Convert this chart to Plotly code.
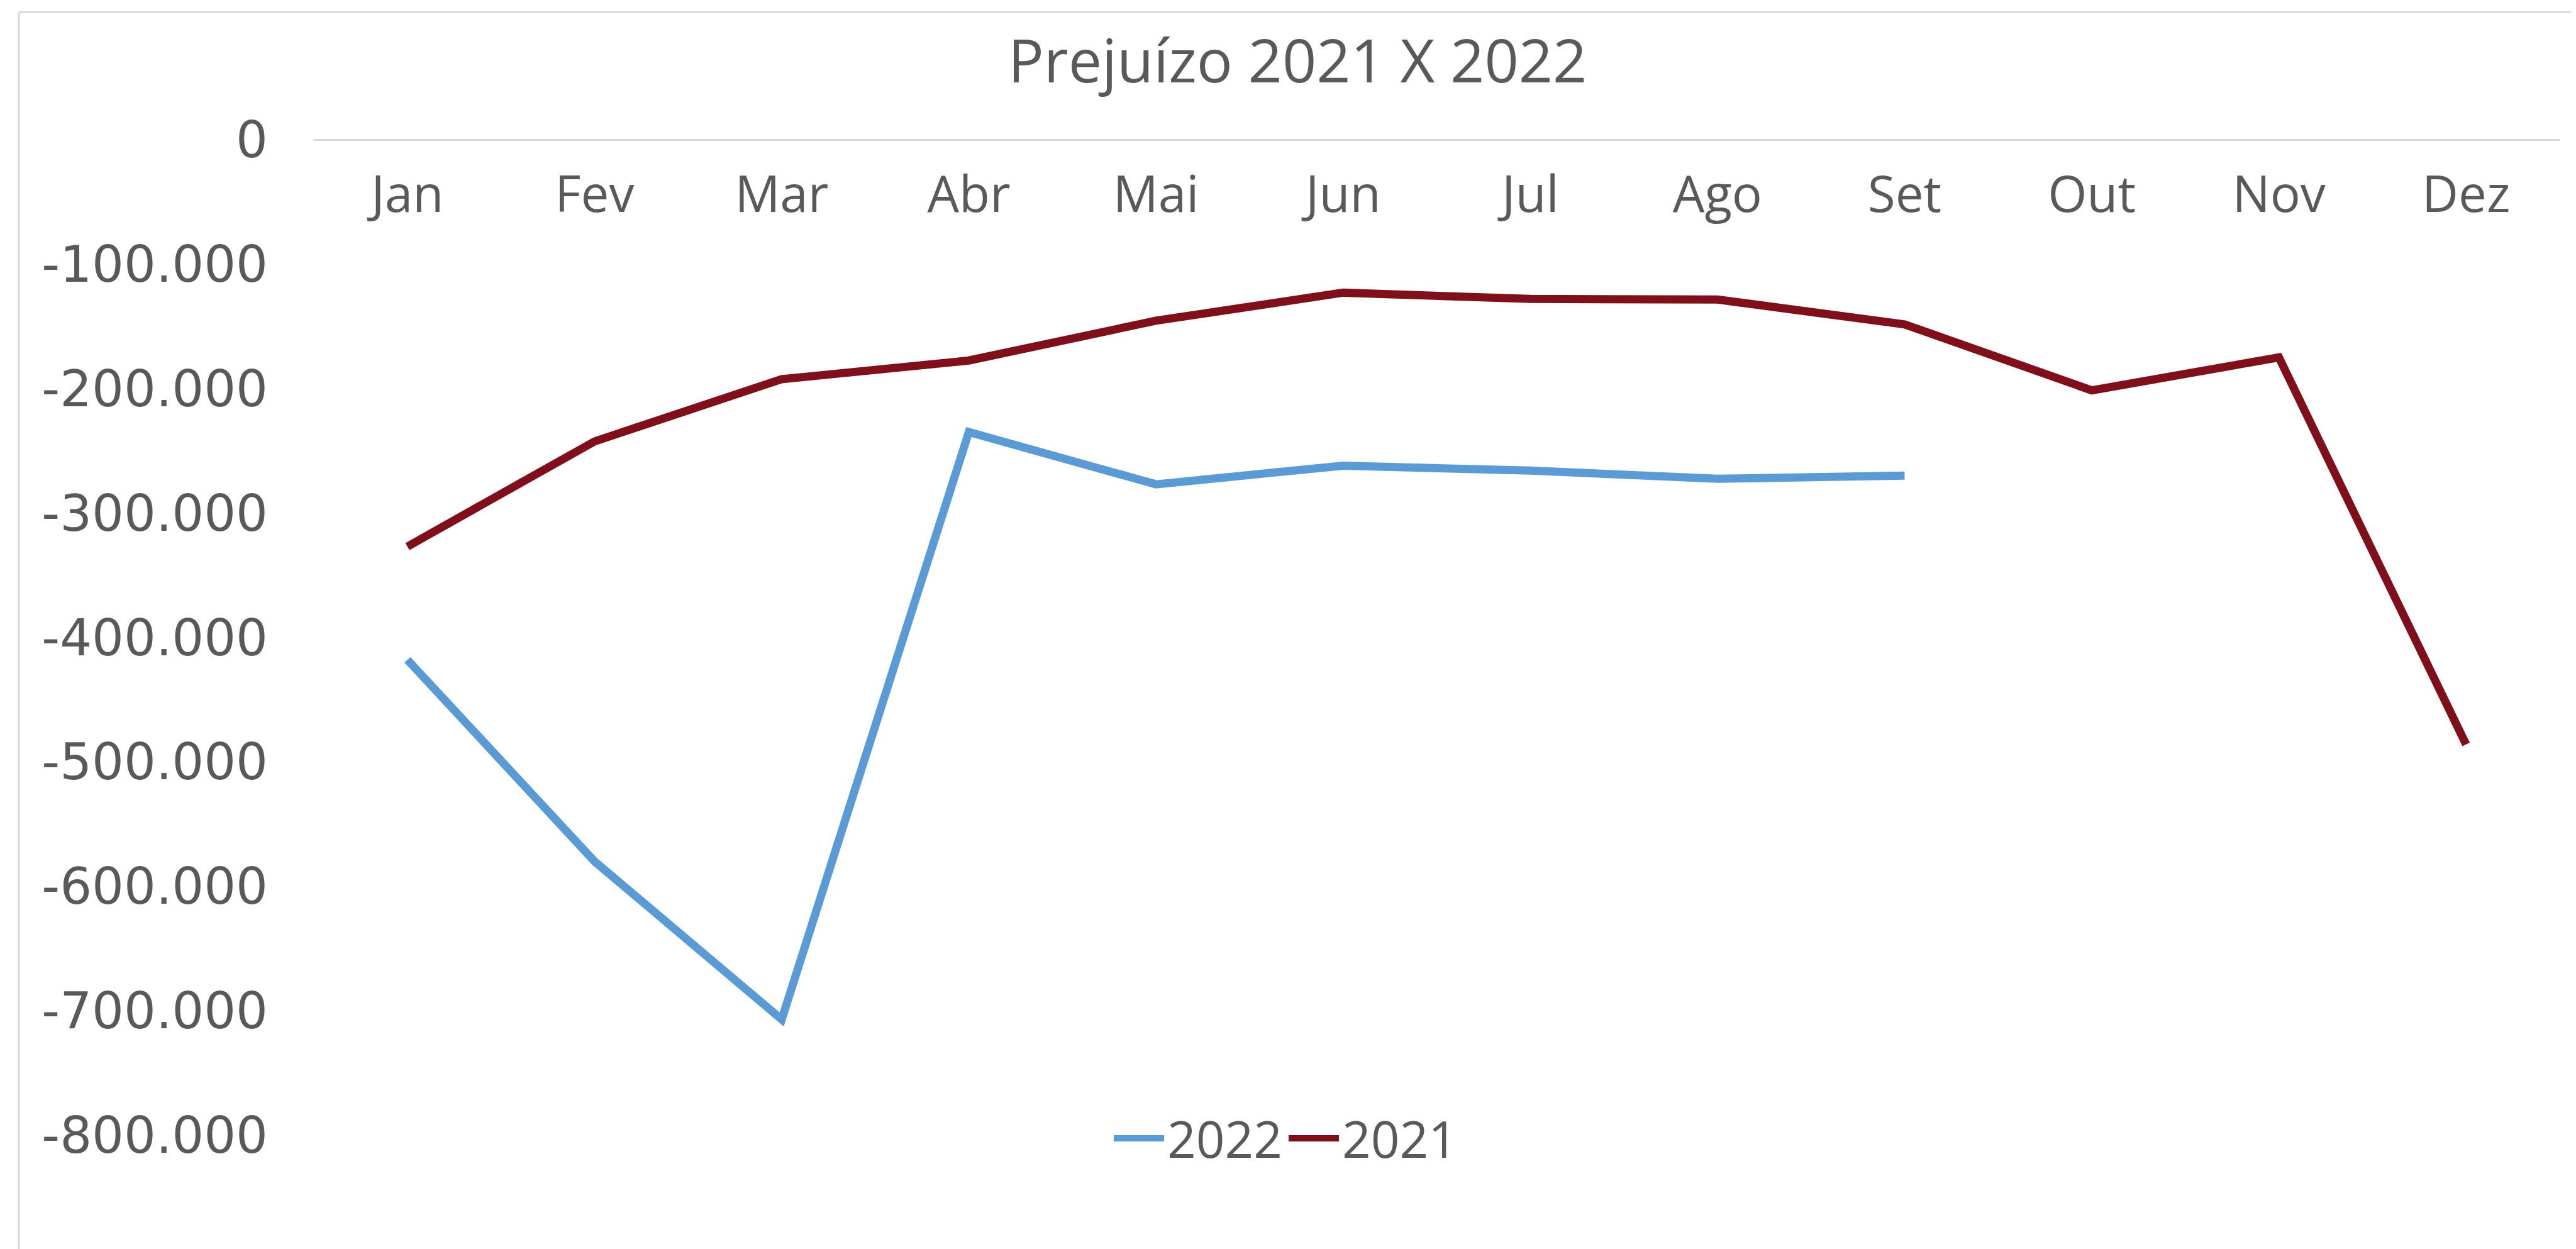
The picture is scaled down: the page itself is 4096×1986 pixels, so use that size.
import plotly.graph_objects as go

months = ["Jan", "Fev", "Mar", "Abr", "Mai", "Jun", "Jul", "Ago", "Set", "Out", "Nov", "Dez"]
values_2022 = [-418000, -580000, -707000, -235000, -277000, -262000, -266000, -272500, -270000, None, None, None]
values_2021 = [-327000, -242500, -192500, -177500, -145500, -123000, -128000, -128500, -148500, -201500, -175000, -486000]
y_tickvals = [0, -100000, -200000, -300000, -400000, -500000, -600000, -700000, -800000]
y_ticktext = ["0", "-100.000", "-200.000", "-300.000", "-400.000", "-500.000", "-600.000", "-700.000", "-800.000"]

W, H = 4096, 1986
L, R, T, B = 491, 4062, 214, 1797
PW, PH = R - L, B - T

def px_x(px):
    return (px - L) / PW

def px_y(py):
    return (B - py) / PH

TEXT = "#595959"
fig = go.Figure()
fig.add_trace(go.Scatter(x=months, y=values_2022, name="2022", mode="lines",
                         line=dict(color="#5B9BD5", width=13), connectgaps=False))
fig.add_trace(go.Scatter(x=months, y=values_2021, name="2021", mode="lines",
                         line=dict(color="#7F0F1A", width=13)))

fig.update_layout(
    width=W, height=H,
    margin=dict(l=L, r=W - R, t=T, b=H - B, pad=0),
    paper_bgcolor="white", plot_bgcolor="white",
    title=dict(text="Prejuízo 2021 X 2022", x=2055 / W, xanchor="center",
               y=1 - 90 / H, yanchor="middle",
               font=dict(family="Open Sans", size=95, color=TEXT)),
    showlegend=True,
    legend=dict(orientation="h", x=px_x(2036), xanchor="center", y=px_y(1802), yanchor="middle",
                font=dict(family="Open Sans", size=80, color=TEXT),
                itemwidth=80, bgcolor="rgba(0,0,0,0)", tracegroupgap=0),
    hovermode=False,
    xaxis=dict(type="category", range=[-0.5, 11.5], anchor="free", position=1, side="bottom",
               showline=True, linecolor="#D9D9D9", linewidth=3, showgrid=False, zeroline=False,
               ticks="", tickfont=dict(family="Open Sans", size=80, color=TEXT),
               ticklabelstandoff=17),
    yaxis=dict(range=[-800000, 0], domain=[0, 1], tickvals=y_tickvals, ticktext=y_ticktext,
               showgrid=False, zeroline=False, showline=False, ticks="",
               tickfont=dict(family="DejaVu Sans", size=80, color=TEXT),
               ticklabelstandoff=72),
    shapes=[
        dict(type="line", xref="paper", yref="paper", x0=px_x(22), x1=px_x(22), y0=px_y(H + 5), y1=px_y(11.5),
             line=dict(color="#D9D9D9", width=3), layer="below"),
        dict(type="line", xref="paper", yref="paper", x0=px_x(22), x1=px_x(W + 5), y0=px_y(11.5), y1=px_y(11.5),
             line=dict(color="#D9D9D9", width=3), layer="below"),
    ],
)

fig.write_html("out.html")
